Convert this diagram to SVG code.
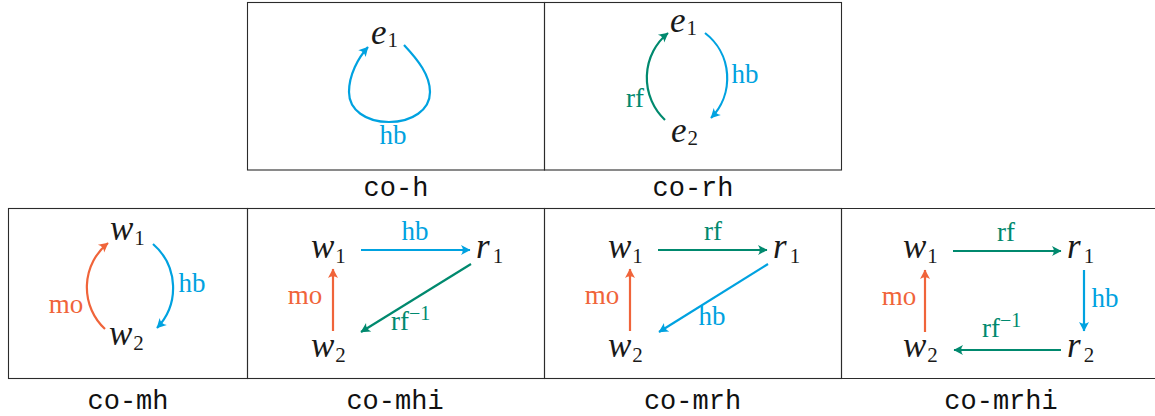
<svg xmlns="http://www.w3.org/2000/svg" width="1155" height="416" viewBox="0 0 1155 416">
<style>
.box{fill:none;stroke:#2b2b2b;stroke-width:1.1}
.m{font-family:"Liberation Serif",serif;font-style:italic;font-size:35px;fill:#1a1a1a}
.s{font-style:normal;font-size:21px}
.lbl{font-family:"Liberation Serif",serif;font-size:27px}
.sup{font-size:20px}
.cap{font-family:"Liberation Mono",monospace;font-size:27px;text-anchor:middle;fill:#111}
.e{fill:none;stroke-width:2.2}
.cb{stroke:#00a2e0}
.cg{stroke:#00896e}
.co{stroke:#f0643a}
.tb{fill:#00a2e0}
.tg{fill:#00896e}
.to{fill:#f0643a}
</style>
<defs>
<marker id="ab" markerUnits="userSpaceOnUse" markerWidth="14" markerHeight="14" refX="0" refY="0" viewBox="-12 -7 14 14" orient="auto"><path d="M0.5,0 L-9,-5 Q-5.5,0 -9,5 Z" fill="#00a2e0"/></marker>
<marker id="ag" markerUnits="userSpaceOnUse" markerWidth="14" markerHeight="14" refX="0" refY="0" viewBox="-12 -7 14 14" orient="auto"><path d="M0.5,0 L-9,-5 Q-5.5,0 -9,5 Z" fill="#00896e"/></marker>
<marker id="ao" markerUnits="userSpaceOnUse" markerWidth="14" markerHeight="14" refX="0" refY="0" viewBox="-12 -7 14 14" orient="auto"><path d="M0.5,0 L-9,-5 Q-5.5,0 -9,5 Z" fill="#f0643a"/></marker>
</defs>

<g id="frames">
<rect class="box" x="247.5" y="2.5" width="297" height="167.5"/>
<rect class="box" x="544.5" y="2.5" width="297" height="167.5"/>
<rect class="box" x="8.5" y="208.5" width="239" height="170"/>
<rect class="box" x="247.5" y="208.5" width="297" height="170"/>
<rect class="box" x="544.5" y="208.5" width="297" height="170"/>
<path class="box" d="M841.5,208.5 H1160 M841.5,378.5 H1160 M841.5,208.5 V378.5"/>
</g>

<g id="captions">
<text class="cap" x="396" y="196">co-h</text>
<text class="cap" x="693" y="196">co-rh</text>
<text class="cap" x="128" y="409">co-mh</text>
<text class="cap" x="395" y="409">co-mhi</text>
<text class="cap" x="692.5" y="409">co-mrh</text>
<text class="cap" x="1001" y="409">co-mrhi</text>
</g>

<!-- co-h -->
<g id="coh-e1"><text class="m" x="371" y="44">e<tspan class="s" dx="1" dy="3">1</tspan></text></g>

<!-- co-rh -->
<g id="corh-e1"><text class="m" x="670" y="32">e<tspan class="s" dx="1" dy="3">1</tspan></text></g>
<g id="corh-e2"><text class="m" x="671" y="142">e<tspan class="s" dx="1" dy="3">2</tspan></text></g>

<!-- co-mh -->
<g id="comh-w1"><text class="m" x="110" y="240">w<tspan class="s" dx="1" dy="5">1</tspan></text></g>
<g id="comh-w2"><text class="m" x="109" y="345">w<tspan class="s" dx="1" dy="5">2</tspan></text></g>

<!-- co-mhi -->
<g id="comhi-w1"><text class="m" x="311" y="258">w<tspan class="s" dx="1" dy="5">1</tspan></text></g>
<g id="comhi-r1"><text class="m" x="476" y="258">r<tspan class="s" dx="3" dy="5">1</tspan></text></g>
<g id="comhi-w2"><text class="m" x="311" y="357">w<tspan class="s" dx="1" dy="5">2</tspan></text></g>

<!-- co-mrh -->
<g id="comrh-w1"><text class="m" x="608" y="258">w<tspan class="s" dx="1" dy="5">1</tspan></text></g>
<g id="comrh-r1"><text class="m" x="773" y="258">r<tspan class="s" dx="3" dy="5">1</tspan></text></g>
<g id="comrh-w2"><text class="m" x="608" y="357">w<tspan class="s" dx="1" dy="5">2</tspan></text></g>

<!-- co-mrhi -->
<g id="comrhi-w1"><text class="m" x="903" y="258">w<tspan class="s" dx="1" dy="5">1</tspan></text></g>
<g id="comrhi-r1"><text class="m" x="1067" y="258">r<tspan class="s" dx="3" dy="5">1</tspan></text></g>
<g id="comrhi-w2"><text class="m" x="903" y="357">w<tspan class="s" dx="1" dy="5">2</tspan></text></g>
<g id="comrhi-r2"><text class="m" x="1067" y="357">r<tspan class="s" dx="3" dy="5">2</tspan></text></g>

<g id="connectors">
<!-- co-h -->
<path class="e cb" marker-end="url(#ab)" d="M404,45 C418,60 430,75 430,92 C430,110 412,122 389,122 C366,122 349,110 349,92 C349,75 358,58 368,47"/>
<text class="lbl tb" x="393" y="144" text-anchor="middle">hb</text>
<!-- co-rh -->
<path class="e cg" marker-end="url(#ag)" d="M665,120 A58,58 0 0 1 668,33"/>
<text class="lbl tg" x="635" y="107" text-anchor="middle">rf</text>
<path class="e cb" marker-end="url(#ab)" d="M705,33 A57,57 0 0 1 711,118"/>
<text class="lbl tb" x="745" y="83" text-anchor="middle">hb</text>
<!-- co-mh -->
<path class="e co" marker-end="url(#ao)" d="M105,329 A57,57 0 0 1 108,243"/>
<text class="lbl to" x="66" y="313" text-anchor="middle">mo</text>
<path class="e cb" marker-end="url(#ab)" d="M153,244 A58,58 0 0 1 157,328"/>
<text class="lbl tb" x="192" y="292" text-anchor="middle">hb</text>
<!-- co-mhi -->
<path class="e cb" marker-end="url(#ab)" d="M361,250 H470"/>
<text class="lbl tb" x="415" y="240" text-anchor="middle">hb</text>
<path class="e co" marker-end="url(#ao)" d="M333,331 V269"/>
<text class="lbl to" x="305" y="304" text-anchor="middle">mo</text>
<path class="e cg" marker-end="url(#ag)" d="M471,264 L361,332"/>
<text class="lbl tg" x="391" y="330">rf<tspan class="sup" dy="-10">−1</tspan></text>
<!-- co-mrh -->
<path class="e cg" marker-end="url(#ag)" d="M658,250 H767"/>
<text class="lbl tg" x="713" y="240" text-anchor="middle">rf</text>
<path class="e co" marker-end="url(#ao)" d="M630,331 V269"/>
<text class="lbl to" x="602" y="304" text-anchor="middle">mo</text>
<path class="e cb" marker-end="url(#ab)" d="M768,264 L659,332"/>
<text class="lbl tb" x="712" y="325" text-anchor="middle">hb</text>
<!-- co-mrhi -->
<path class="e cg" marker-end="url(#ag)" d="M953,251 H1061"/>
<text class="lbl tg" x="1006" y="241" text-anchor="middle">rf</text>
<path class="e cb" marker-end="url(#ab)" d="M1084,270 V331"/>
<text class="lbl tb" x="1105" y="307" text-anchor="middle">hb</text>
<path class="e cg" marker-end="url(#ag)" d="M1061,350 H954"/>
<text class="lbl tg" x="982" y="337">rf<tspan class="sup" dy="-10">−1</tspan></text>
<path class="e co" marker-end="url(#ao)" d="M925,332 V270"/>
<text class="lbl to" x="899" y="305" text-anchor="middle">mo</text>
</g>
</svg>
